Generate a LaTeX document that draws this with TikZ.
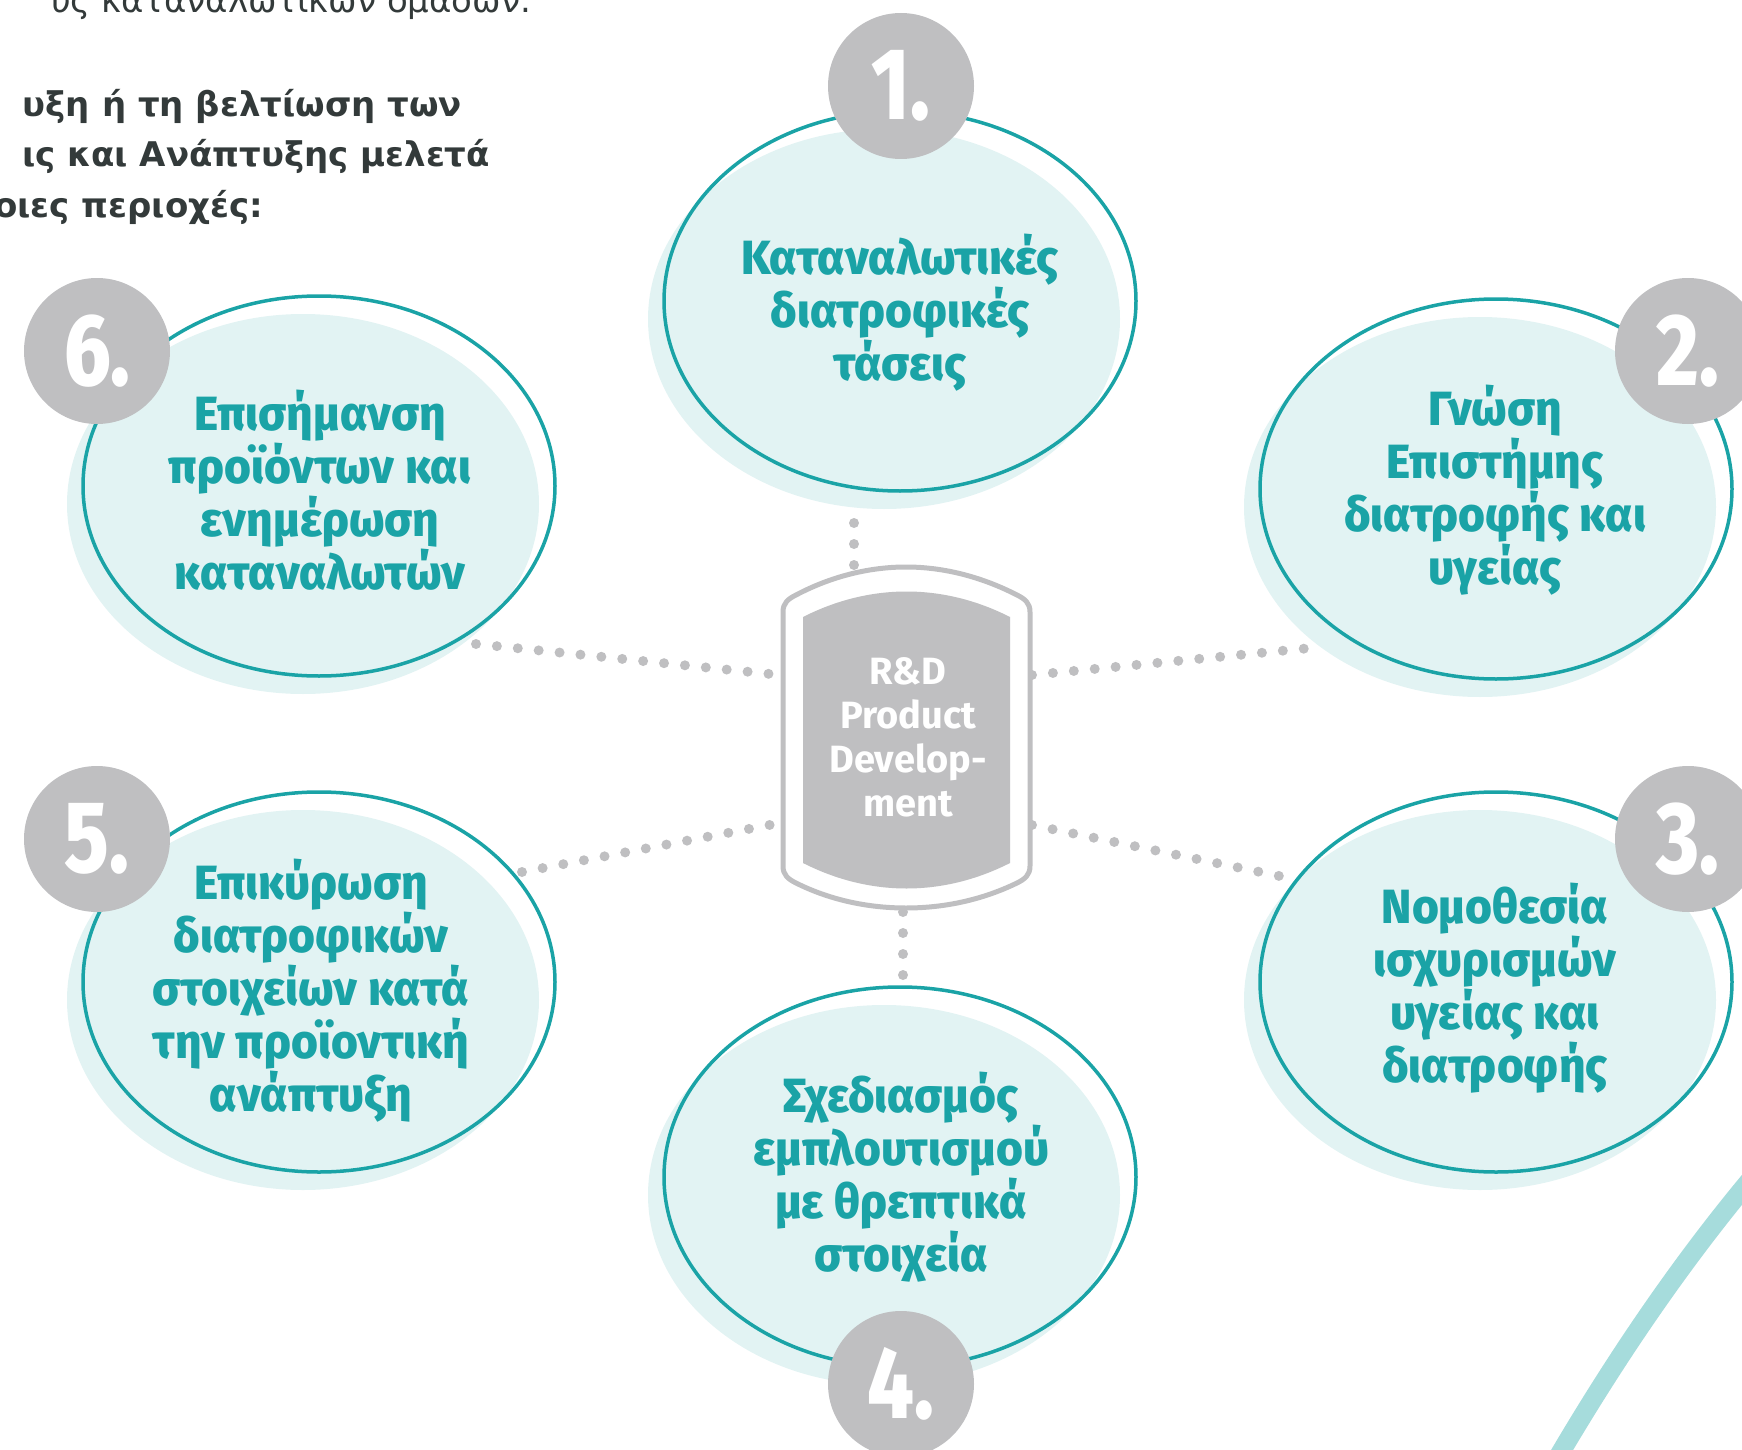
\documentclass[tikz,border=0pt]{standalone}
\usepackage{fontspec}
\setmainfont{Fira Sans}
\newfontfamily\bubblefont{Fira Sans ExtraBold}[FakeStretch=0.96]
\newfontfamily\numfont{Fira Sans ExtraBold}[FakeStretch=0.8]
\newfontfamily\introfont{DejaVu Sans}
\usetikzlibrary{shapes.geometric}

\definecolor{rdteal}{HTML}{1AA3A6}
\definecolor{rdlight}{HTML}{E2F3F3}
\definecolor{rdgray}{HTML}{BFBFC1}
\definecolor{rddark}{HTML}{333A3A}
\definecolor{rdcurve}{HTML}{A6DCDC}

\begin{document}
\begin{tikzpicture}[
        x=0.5pt, y=-0.5pt,
        every node/.style={inner sep=0pt, outer sep=0pt},
        bubblefill/.style={ellipse, fill=rdlight, minimum width=236pt, minimum height=190pt},
        bubble/.style={ellipse, draw=rdteal, line width=1.75pt, minimum width=236pt, minimum height=190pt},
        bubbletext/.style={align=center, text=rdteal, font=\bubblefont\fontsize{24}{26.5}\selectfont},
        numcircle/.style={circle, fill=rdgray, minimum size=73pt, text=white, font=\numfont\fontsize{51}{51}\selectfont},
        dotline/.style={draw=rdgray, line width=5pt, line cap=round, dash pattern=on 0pt off 10.5pt},
        intro/.style={anchor=base east, text=rddark, font=\introfont\fontsize{17}{25}\selectfont}
      ]
      \useasboundingbox (0,0) rectangle (1742,1450);

      % Intro text (cut at the page edge)
      \node[intro] (intro0) at (531,13) {υς καταναλωτικών ομάδων.};
      \node[intro, font=\introfont\bfseries\fontsize{17}{25}\selectfont] (intro1) at (462,117) {υξη ή τη βελτίωση των};
      \node[intro, font=\introfont\bfseries\fontsize{17}{25}\selectfont] (intro2) at (490,167) {ις και Ανάπτυξης μελετά};
      \node[intro, font=\introfont\bfseries\fontsize{17}{25}\selectfont] (intro3) at (263,218) {οιες περιοχές:};

      % Decorative curve
      \draw[rdcurve, line width=9.5pt] (1548,1474) .. controls (1606,1374) and (1676,1267) .. (1761,1167);

      % Light fills behind the bubbles
      \node[bubblefill] (f1) at (884,319) {};
      \node[bubblefill] (f2) at (1480,507) {};
      \node[bubblefill] (f3) at (1480,1000) {};
      \node[bubblefill] (f4) at (884,1195) {};
      \node[bubblefill] (f5) at (303,1000) {};
      \node[bubblefill] (f6) at (303,504) {};

      % Bubble outlines
      \node[bubble] (e1) at (900,301) {};
      \node[bubble] (e2) at (1496,489) {};
      \node[bubble] (e3) at (1496,982) {};
      \node[bubble] (e4) at (900,1177) {};
      \node[bubble] (e5) at (319,982) {};
      \node[bubble] (e6) at (319,486) {};

      % Dotted links to the centre
      \coordinate (p1) at (854,523);  \coordinate (q1) at (854,566);
      \coordinate (p2) at (1311,648); \coordinate (q2) at (1032,675);
      \coordinate (p3) at (1289,878); \coordinate (q3) at (1032,825);
      \coordinate (p4) at (903,912);  \coordinate (q4) at (903,976);
      \coordinate (p5) at (522,872);  \coordinate (q5) at (780,823);
      \coordinate (p6) at (476,644);  \coordinate (q6) at (780,675);
      \draw[dotline] (p1) -- (q1);
      \draw[dotline] (q2) -- (p2);
      \draw[dotline] (q3) -- (p3);
      \draw[dotline] (p4) -- (q4);
      \draw[dotline] (p5) -- (q5);
      \draw[dotline] (p6) -- (q6);

      % R&D centre
      \draw[rdgray, line width=2.5pt, fill=white]
        (783,866) -- (783,612) .. controls (783,603) and (788,599) .. (796,595)
        .. controls (830,577) and (868,567) .. (906,567)
        .. controls (944,567) and (982,577) .. (1017,595)
        .. controls (1025,599) and (1030,603) .. (1030,612) -- (1030,866)
        .. controls (1030,875) and (1025,879) .. (1017,883)
        .. controls (982,900) and (944,908) .. (906,908)
        .. controls (868,908) and (830,900) .. (796,883)
        .. controls (788,879) and (783,875) .. (783,866) -- cycle;
      \fill[rdgray] (803,617) .. controls (870,583) and (943,583) .. (1010,617)
        -- (1010,863) .. controls (943,897) and (870,897) .. (803,863) -- cycle;
      \node[align=center, text=white, font=\bfseries\fontsize{19}{22}\selectfont] (rd) at (908,737)
        {R\&D\\Product\\Develop-\\ment};

      % Number badges
      \node[numcircle] (n1) at (901,86) {1.};
      \node[numcircle] (n2) at (1688,351) {2.};
      \node[numcircle] (n3) at (1688,839) {3.};
      \node[numcircle] (n4) at (901,1384) {4.};
      \node[numcircle] (n5) at (97,839) {5.};
      \node[numcircle] (n6) at (97,351) {6.};

      % Bubble texts
      \node[bubbletext] (t1) at (900,313) {Καταναλωτικές\\διατροφικές\\τάσεις};
      \node[bubbletext] (t2) at (1495,490) {Γνώση\\Επιστήμης\\διατροφής και\\υγείας};
      \node[bubbletext] (t3) at (1495,988) {Νομοθεσία\\ισχυρισμών\\υγείας και\\διατροφής};
      \node[bubbletext] (t4) at (901,1177) {Σχεδιασμός\\εμπλουτισμού\\με θρεπτικά\\στοιχεία};
      \node[bubbletext] (t5) at (311,991) {Επικύρωση\\διατροφικών\\στοιχείων κατά\\την προϊοντική\\ανάπτυξη};
      \node[bubbletext] (t6) at (320,490) {Επισήμανση\\προϊόντων και\\ενημέρωση\\καταναλωτών};
    \end{tikzpicture}
\end{document}
